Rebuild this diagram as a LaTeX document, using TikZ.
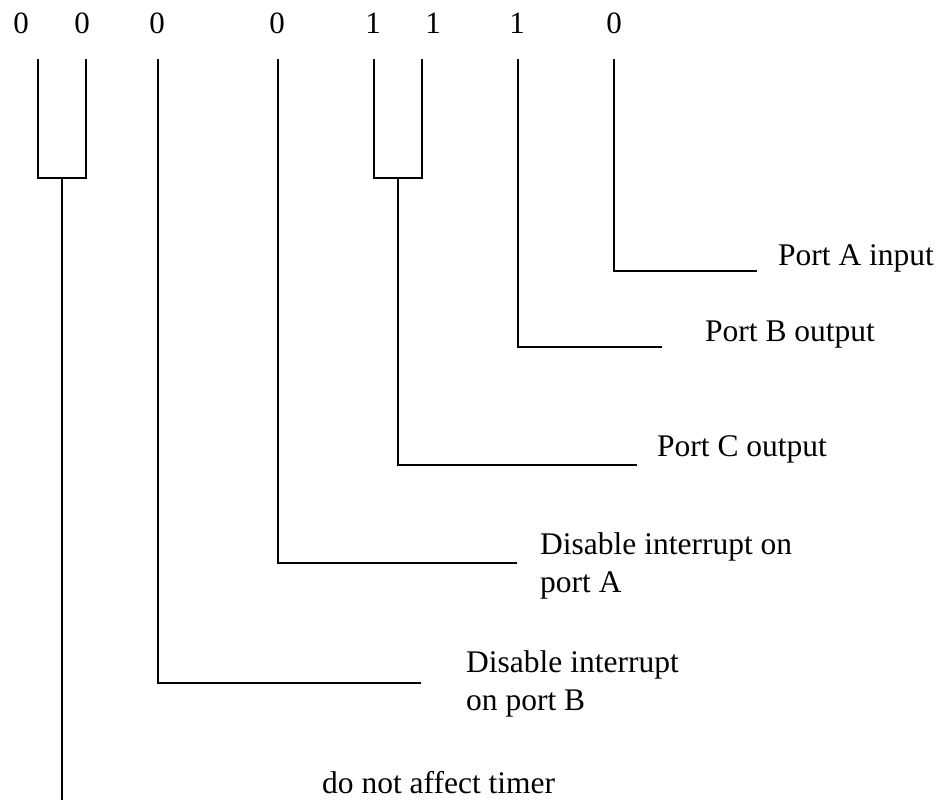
\documentclass[tikz,border=0pt]{standalone}
\usepackage{fontspec}
\setmainfont{Liberation Serif}
\begin{document}
\begin{tikzpicture}[x=1pt,y=-1pt,
  wire/.style={line width=1.6pt},
  bit/.style={anchor=base, inner sep=0pt, font=\fontsize{31}{38}\selectfont},
  lbl/.style={anchor=base west, inner sep=0pt, align=left, font=\fontsize{31.5}{38}\selectfont}]
\useasboundingbox (0,0) rectangle (939,800);
% bits
\node[bit] (b7) at (21,34) {0};
\node[bit] (b6) at (82,34) {0};
\node[bit] (b5) at (157,34) {0};
\node[bit] (b4) at (277,34) {0};
\node[bit] (b3) at (373,34) {1};
\node[bit] (b2) at (433,34) {1};
\node[bit] (b1) at (517,34) {1};
\node[bit] (b0) at (614,34) {0};
% labels
\node[lbl] (la) at (778,265) {Port A input};
\node[lbl] (lb) at (705,341) {Port B output};
\node[lbl] (lc) at (657,456) {Port C output};
\node[lbl] (ld) at (540,592) {Disable interrupt on\\port A};
\node[lbl] (le) at (466,710) {Disable interrupt\\on port B};
\node[lbl] (lf) at (322,793) {do not affect timer};
% line ends
\coordinate (t7) at (38,59);   \coordinate (t6) at (86,59);
\coordinate (k76) at (62,178);
\coordinate (t3) at (374,59);  \coordinate (t2) at (422,59);
\coordinate (k32) at (398,178);
\coordinate (t5) at (158,59);  \coordinate (t4) at (278,59);
\coordinate (t1) at (518,59);  \coordinate (t0) at (614,59);
\coordinate (ea) at (757,271);
\coordinate (eb) at (662,347);
\coordinate (ec) at (637,465);
\coordinate (ed) at (517,563);
\coordinate (ee) at (421,683);
\coordinate (ef) at (62,800);
% connectors
\draw[wire] (t7) |- (k76) -| (t6);
\draw[wire] (k76) -- (ef);
\draw[wire] (t3) |- (k32) -| (t2);
\draw[wire] (k32) |- (ec);
\draw[wire] (t0) |- (ea);
\draw[wire] (t1) |- (eb);
\draw[wire] (t4) |- (ed);
\draw[wire] (t5) |- (ee);
\end{tikzpicture}
\end{document}
